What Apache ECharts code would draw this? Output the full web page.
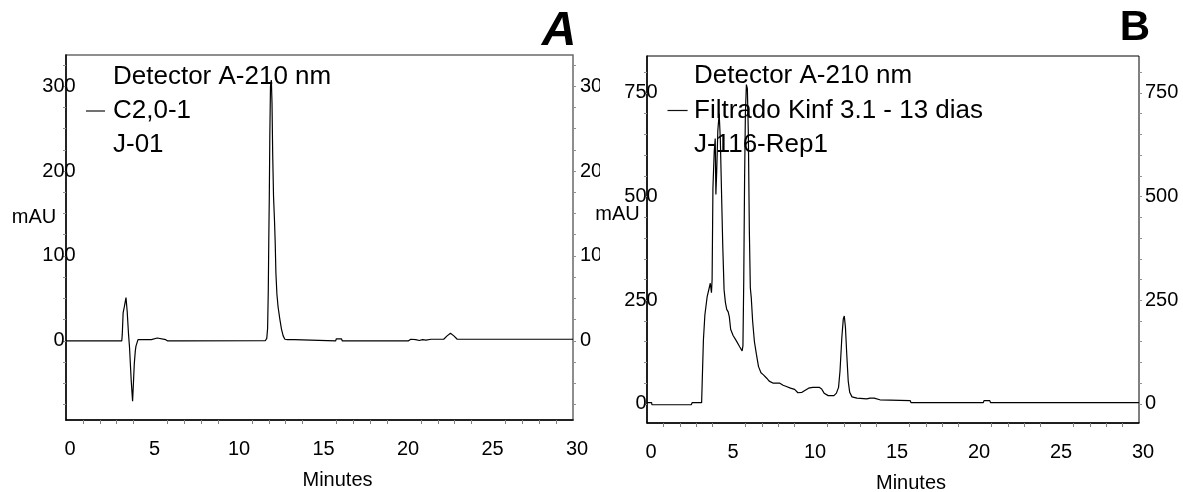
<!DOCTYPE html>
<html>
<head>
<meta charset="utf-8">
<script src="https://cdn.jsdelivr.net/npm/echarts@6/dist/echarts.min.js"></script>
<style>
html,body{margin:0;padding:0;background:#fff;}
#L{position:absolute;left:0;top:0;width:600px;height:492px;}
#R{position:absolute;left:590px;top:0;width:593px;height:492px;background:linear-gradient(to right, rgba(255,255,255,0) 10px, #fff 10px);}
</style>
</head>
<body>
<div id="L"></div>
<div id="R"></div>
<script>
// ---- Data (chromatogram A) ----
const timeA = [0, 3.3, 3.33, 3.38, 3.45, 3.55, 3.62, 3.7, 3.76, 3.86, 3.94, 4.0, 4.04, 4.1, 4.14, 4.26, 5.05, 5.1, 5.4, 5.45, 5.9, 5.95, 6.02, 6.04, 6.08, 6.7, 6.73, 6.77, 11.8, 11.88, 11.93, 11.97, 12.0, 12.03, 12.06, 12.1, 12.15, 12.19, 12.23, 12.28, 12.34, 12.38, 12.42, 12.48, 12.55, 12.65, 12.75, 12.85, 12.95, 13.05, 13.1, 13.5, 13.55, 15.95, 16.0, 16.3, 16.35, 20.1, 20.15, 20.25, 20.4, 20.5, 20.7, 20.9, 21.1, 21.3, 21.6, 22.35, 22.55, 22.75, 22.95, 23.15, 30];
const signalA = [0, 0, 8, 33, 40, 51, 35, 8, -8, -47, -71, -45, -27, -12, -6, 1.5, 1.5, 3.5, 3.5, 1.5, 1.5, 0, 0, 2, 0, 0, 2, 0, 0.5, 3, 15, 60, 120, 170, 240, 300, 307, 280, 220, 170, 140, 115, 80, 55, 40, 26, 14, 6, 2, 0, 1.5, 1.5, 0, 0, 2.5, 2.5, 0, 0, 2, 0, 2, 0, 1.5, 0.5, 1.5, 1, 2, 2, 6, 9, 6, 2, 2];

// ---- Data (chromatogram B) ----
const timeB = [0, 0.28, 0.3, 2.7, 2.75, 3.33, 3.37, 3.44, 3.53, 3.67, 3.86, 3.93, 3.97, 4.02, 4.1, 4.16, 4.2, 4.25, 4.32, 4.4, 4.47, 4.55, 4.62, 4.7, 4.78, 4.86, 4.95, 5.02, 5.1, 5.25, 5.45, 5.65, 5.8, 5.85, 5.9, 5.95, 6.0, 6.06, 6.12, 6.18, 6.24, 6.3, 6.36, 6.44, 6.55, 6.67, 6.8, 6.95, 7.1, 7.3, 7.45, 7.7, 8.1, 8.2, 8.3, 8.5, 8.75, 9.0, 9.2, 9.45, 9.6, 9.85, 10.1, 10.5, 10.65, 10.8, 11.05, 11.4, 11.55, 11.68, 11.77, 11.88, 11.97, 12.03, 12.1, 12.18, 12.27, 12.36, 12.5, 12.8, 13.4, 13.5, 13.6, 13.85, 13.95, 14.2, 16.05, 16.1, 20.5, 20.55, 20.9, 20.95, 30];
const signalB = [3, 3, -2, -2, 3, 3, 58, 154, 215, 259, 291, 268, 300, 520, 610, 640, 505, 560, 660, 700, 640, 500, 380, 275, 245, 228, 222, 210, 180, 165, 152, 138, 128, 140, 300, 540, 700, 770, 760, 650, 420, 280, 255, 200, 150, 120, 90, 75, 70, 62, 55, 50, 50, 54, 45, 42, 38, 35, 27, 28, 32, 38, 40, 40, 36, 26, 20, 20, 26, 40, 80, 160, 205, 212, 185, 120, 55, 28, 17, 14, 12, 9, 14, 14, 10, 10, 8, 3, 3, 8, 8, 3, 3];

// ---- Tick labels ----
const xLabels = [0, 5, 10, 15, 20, 25, 30];
const xMinorTicks = [1,2,3,4,6,7,8,9,11,12,13,14,16,17,18,19,21,22,23,24,26,27,28,29];
const yLabelsA = [0, 100, 200, 300];
const yTicksA = [-75, -50, -25, 0, 25, 50, 75, 100, 125, 150, 175, 200, 225, 250, 275, 300, 325];
const yLabelsB = [0, 250, 500, 750];
const yTicksB = [0, 50, 100, 150, 200, 250, 300, 350, 400, 450, 500, 550, 600, 650, 700, 750, 800];

const legendA = ['Detector A-210 nm', 'C2,0-1', 'J-01'];
const legendB = ['Detector A-210 nm', 'Filtrado Kinf 3.1 - 13 dias', 'J-116-Rep1'];

const FONT = '"Liberation Sans", Arial, sans-serif';

function pairs(t, v) { return t.map((x, i) => [x, v[i]]); }

function buildOption(p) {
  const labelStyle = {color: '#000', fontSize: 20, fontFamily: FONT};
  return {
    animation: false,
    grid: {left: p.left, top: p.top, width: p.width, height: p.height, show: true,
           borderColor: p.border, borderWidth: p.borderWidth, containLabel: false,
           outerBoundsMode: 'none'},
    xAxis: {
      type: 'value', min: 0, max: 30, interval: 5,
      axisLine: {show: true, onZero: false, lineStyle: {color: '#000', width: 1.5}},
      axisTick: {show: true, customValues: xMinorTicks, length: 4, lineStyle: {color: '#808080', width: 1}},
      axisLabel: Object.assign({margin: 19, customValues: xLabels, padding: [0, 0, 0, 8], showMinLabel: true, showMaxLabel: true}, labelStyle),
      splitLine: {show: false},
      name: 'Minutes', nameLocation: 'middle', nameGap: p.nameGap,
      nameTextStyle: {color: '#000', fontSize: 20, fontFamily: FONT, padding: [0, 0, 0, 36]}
    },
    yAxis: [
      {
        type: 'value', min: p.ymin, max: p.ymax, position: 'left',
        axisLine: {show: true, onZero: false, lineStyle: {color: '#000', width: 1.5}},
        axisTick: {show: true, customValues: p.yTicks, length: 3, lineStyle: {color: '#909090'}},
        axisLabel: Object.assign({margin: p.leftMargin, align: 'center', customValues: p.yLabels}, labelStyle),
        splitLine: {show: false}
      },
      {
        type: 'value', min: p.ymin, max: p.ymax, position: 'right',
        axisLine: {show: false, onZero: false},
        axisTick: {show: true, customValues: p.yTicks, length: 3, lineStyle: {color: '#909090'}},
        axisLabel: Object.assign({margin: p.rightMargin, align: 'left', customValues: p.yLabels}, labelStyle),
        splitLine: {show: false}
      }
    ],
    series: [{
      type: 'line', data: pairs(p.t, p.v), showSymbol: false, symbol: 'none',
      lineStyle: {color: '#000', width: 1.2}, clip: true, z: 3
    }],
    graphic: {elements: p.graphics}
  };
}

function txt(text, x, y, size, opts) {
  return Object.assign({type: 'text', z: 10, style: Object.assign({
    text: text, x: x, y: y, fill: '#000',
    font: size + 'px ' + FONT,
    textAlign: 'left', align: 'left', textVerticalAlign: 'middle', verticalAlign: 'middle'
  }, opts || {})});
}

function legendGraphics(lines, tx, y0, dy, lx1, lx2) {
  const g = [];
  lines.forEach((s, i) => g.push(txt(s, tx, y0 + i * dy, 26)));
  g.push({type: 'line', z: 10, shape: {x1: lx1, y1: y0 + dy, x2: lx2, y2: y0 + dy}, style: {stroke: '#111', lineWidth: 1.2}});
  return g;
}

const gA = legendGraphics(legendA, 113, 77, 34, 86, 105);
gA.push(txt('mAU', 34, 217, 20, {textAlign: 'center', align: 'center'}));
gA.push(txt('A', 559, 32, 48, {font: 'italic bold 48px ' + FONT, textAlign: 'center', align: 'center'}));

const gB = legendGraphics(legendB, 104, 76, 34.5, 77.5, 97.6);
gB.push(txt('mAU', 27.5, 214, 20, {textAlign: 'center', align: 'center'}));
gB.push(txt('B', 545, 28, 42, {font: 'bold 42px ' + FONT, textAlign: 'center', align: 'center'}));

const chartL = echarts.init(document.getElementById('L'), null, {renderer: 'canvas'});
chartL.setOption(buildOption({
  left: 66, top: 55, width: 507, height: 365, border: '#6a6a6a', borderWidth: 1.5,
  ymin: -93, ymax: 336.5, yTicks: yTicksA, yLabels: yLabelsA,
  leftMargin: 7, rightMargin: 7, nameGap: 50,
  t: timeA, v: signalA, graphics: gA
}));

const chartR = echarts.init(document.getElementById('R'), null, {renderer: 'canvas'});
chartR.setOption(buildOption({
  left: 57, top: 56, width: 492, height: 367, border: '#000', borderWidth: 1,
  ymin: -46, ymax: 839, yTicks: yTicksB, yLabels: yLabelsB,
  leftMargin: 6, rightMargin: 6, nameGap: 50,
  t: timeB, v: signalB, graphics: gB
}));
</script>
</body>
</html>
